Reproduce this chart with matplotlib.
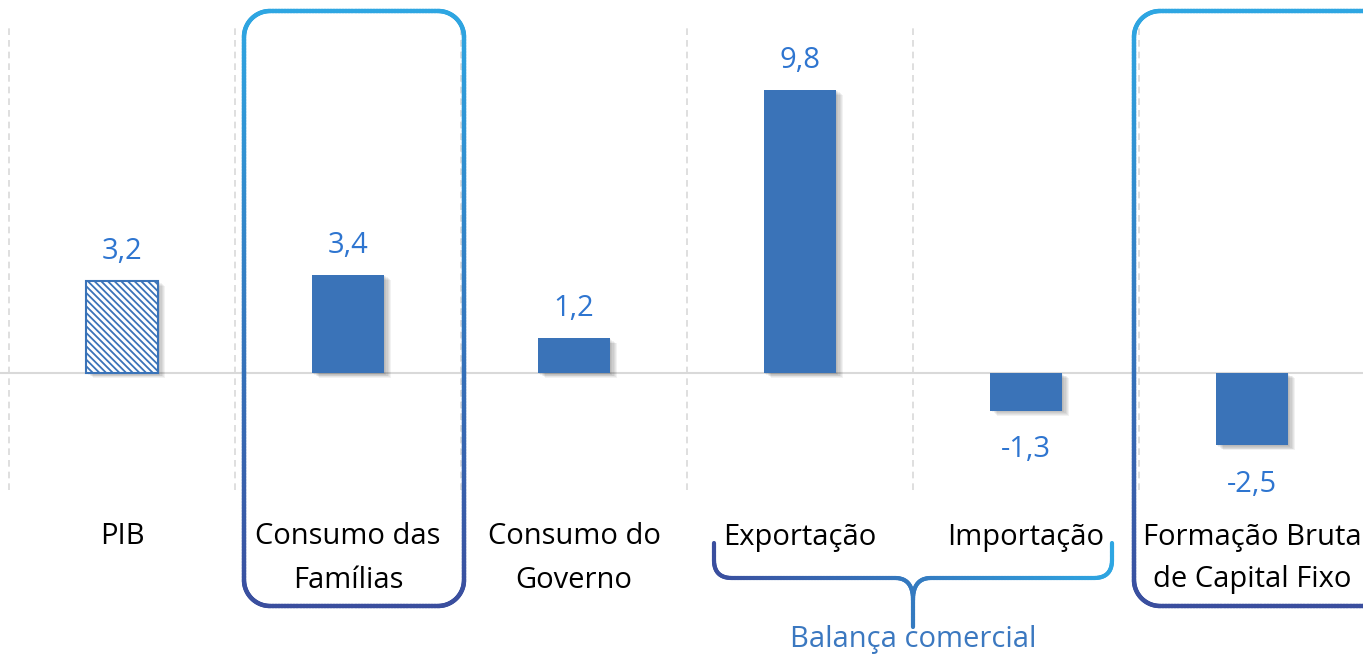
import numpy as np
import matplotlib
matplotlib.use("Agg")
import matplotlib.pyplot as plt
from matplotlib.collections import LineCollection
from matplotlib.colors import LinearSegmentedColormap
from matplotlib.patches import Rectangle

plt.rcParams['font.family'] = ['Open Sans', 'DejaVu Sans']
plt.rcParams['hatch.linewidth'] = 1.3
plt.rcParams['hatch.color'] = '#3a73b8'

categories = ["PIB", "Consumo das\nFamílias", "Consumo do\nGoverno", "Exportação", "Importação",
              "Formação Bruta\nde Capital Fixo"]
values = [3.2, 3.4, 1.2, 9.8, -1.3, -2.5]
value_labels = ["3,2", "3,4", "1,2", "9,8", "-1,3", "-2,5"]
group_label = "Balança comercial"

W, H = 1363, 656
fig = plt.figure(figsize=(W / 100, H / 100), dpi=100)
ax = fig.add_axes([0, 0, 1, 1])
ax.set_xlim(-122 / 226, (W - 122) / 226)
ppu = 28.9
ax.set_ylim(-(H - 373) / ppu, 373 / ppu)
ax.axis('off')

FS = 21
bar_color = '#3a73b8'
label_color = '#2e75d0'
x = np.arange(len(values))
bw = 72 / 226

# gridlines at category boundaries
for b in np.arange(-0.5, len(values) + 0.5, 1):
    ax.plot([b, b], [-(490 - 373) / ppu, (373 - 25) / ppu], color='#d9d9d9', lw=1.2,
            ls=(0, (4, 3)), zorder=0)
# zero line
ax.axhline(0, color='#d9d9d9', lw=1.5, zorder=1)

# soft shadows
for i, v in enumerate(values):
    for k in range(6):
        d = (k + 1) * 1.2
        ax.add_patch(Rectangle((x[i] - bw / 2 + d / 226, min(0, v) - d / ppu * 0.7), bw, abs(v),
                               facecolor='black', alpha=0.05, lw=0, zorder=2))

for i, v in enumerate(values):
    if i == 0:
        ax.bar(x[i], v, bw, facecolor='white', edgecolor=bar_color, hatch='\\\\\\\\\\', lw=1.5, zorder=3)
    else:
        ax.bar(x[i], v, bw, color=bar_color, zorder=3)
    if v >= 0:
        ax.text(x[i], v + 1.02, value_labels[i], ha='center', va='center', color=label_color, fontsize=FS)
    else:
        ax.text(x[i], v - 1.35, value_labels[i], ha='center', va='center', color=label_color, fontsize=FS)

for i, c in enumerate(categories):
    lines = c.split('\n')
    ys = [537] if len(lines) == 1 else [537, 580]
    for ln, yp in zip(lines, ys):
        ax.text(x[i], -(yp - 373) / ppu, ln, ha='center', va='center', fontsize=FS, color='black')

# overlay in pixel coordinates
ov = fig.add_axes([0, 0, 1, 1])
ov.set_xlim(0, W)
ov.set_ylim(H, 0)
ov.axis('off')
ov.patch.set_alpha(0)

cmap = LinearSegmentedColormap.from_list('g', ['#2ea6e2', '#3a4e9e'])


def dens(p):
    out = [p[0]]
    for a, b in zip(p[:-1], p[1:]):
        m = max(2, int(np.hypot(*(b - a)) / 3))
        for t in np.linspace(0, 1, m)[1:]:
            out.append(a + (b - a) * t)
    return np.array(out)


def rounded_rect(x0, y0, x1, y1, r, n=30):
    def arc(cx, cy, a0, a1):
        t = np.linspace(a0, a1, n)
        return np.c_[cx + r * np.cos(t), cy + r * np.sin(t)]
    pts = [arc(x1 - r, y0 + r, -np.pi / 2, 0), arc(x1 - r, y1 - r, 0, np.pi / 2),
           arc(x0 + r, y1 - r, np.pi / 2, np.pi), arc(x0 + r, y0 + r, np.pi, 1.5 * np.pi)]
    p = np.vstack(pts + [pts[0][:1]])
    return dens(p)


for (x0, x1) in [(244, 464), (1134, 1395)]:
    p = rounded_rect(x0, 11, x1, 606, 26)
    segs = np.stack([p[:-1], p[1:]], axis=1)
    lc = LineCollection(segs, cmap=cmap, norm=plt.Normalize(11, 606), lw=3.2,
                        capstyle='round', joinstyle='round')
    lc.set_array((p[:-1, 1] + p[1:, 1]) / 2)
    ov.add_collection(lc)


def qbez(a, c, b, n=20):
    t = np.linspace(0, 1, n)[:, None]
    return (1 - t) ** 2 * np.array(a) + 2 * (1 - t) * t * np.array(c) + t ** 2 * np.array(b)


yh = 578
brace = np.vstack([
    [[714, 543]], [[714, 560]],
    qbez((714, 560), (714, yh), (732, yh)),
    [[895, yh]],
    qbez((895, yh), (913, yh), (913, 600)),
    [[913, 627]],
])
brace_r = np.vstack([
    [[1112, 543]], [[1112, 560]],
    qbez((1112, 560), (1112, yh), (1094, yh)),
    [[931, yh]],
    qbez((931, yh), (913, yh), (913, 600)),
])
cmap_h = LinearSegmentedColormap.from_list('h', ['#3a4e9e', '#2ea6e2'])
for p in [dens(brace), dens(brace_r)]:
    segs = np.stack([p[:-1], p[1:]], axis=1)
    lc = LineCollection(segs, cmap=cmap_h, norm=plt.Normalize(714, 1112), lw=3.0, capstyle='round')
    lc.set_array((p[:-1, 0] + p[1:, 0]) / 2)
    ov.add_collection(lc)

ov.text(913, 640, group_label, ha='center', va='center', fontsize=FS, color='#3b78c0')

fig.savefig('out.png', dpi=100)
